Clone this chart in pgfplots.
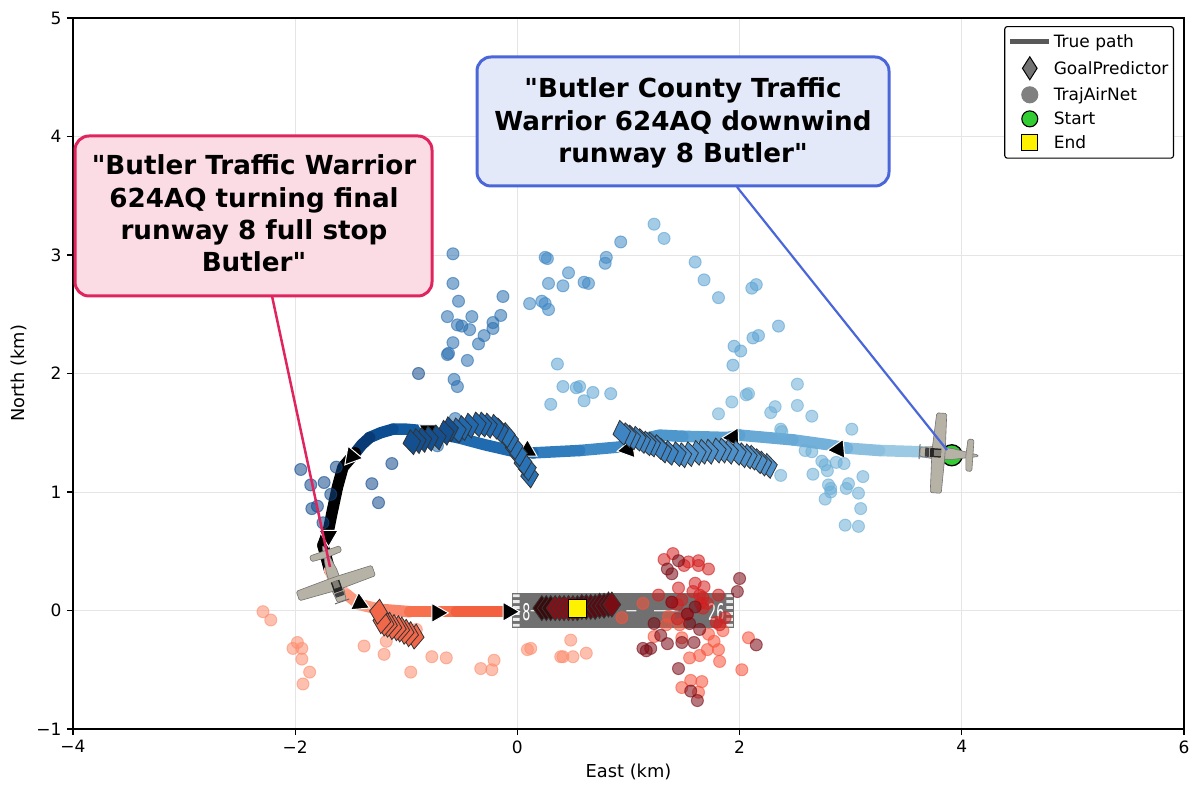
\documentclass[border=0pt]{standalone}
\usepackage{pgfplots}
\pgfplotsset{compat=1.18}
\usepackage{fontspec}
\setmainfont{DejaVu Sans}[Ligatures=TeXOff]
\usetikzlibrary{plotmarks}
\newcommand\defc[1]{\definecolor{HTML#1}{HTML}{#1}}
\defc{9CC9E3}\defc{8DC0DF}\defc{74B1DA}\defc{68A9D6}\defc{5BA2D3}\defc{4E97CC}\defc{408BC6}\defc{307CBD}\defc{206BB0}\defc{125AA0}\defc{0C4C90}\defc{083A75}\defc{000000}\defc{FDB49B}\defc{FB9A7E}\defc{F9866A}\defc{F7714F}\defc{F2603F}
\defc{6BAED6}\defc{5AA2D3}\defc{3F88C4}\defc{2A6FB0}\defc{124A8C}\defc{FC8D6E}\defc{F8533C}\defc{D42020}\defc{7A0A14}
\defc{4E90C9}\defc{3F85C4}\defc{2A72B6}\defc{2268AD}\defc{14508F}\defc{F0674A}\defc{3A0A0C}\defc{8B0D15}\defc{5A0A10}\defc{7A0D14}
\defc{E0245E}\defc{4A66D8}\defc{FBDCE4}\defc{E4E9F9}\defc{32CD32}
\tikzset{
 pts/.style={only marks, mark=*, mark size=6pt, mark options={draw=#1, fill=#1, fill opacity=.55, draw opacity=.6, line width=1pt}},
 seg/.style={draw=#1, line width=11.5pt, line cap=round, line join=round, no marks},
 arr/.style={only marks, mark=triangle*, mark size=11pt, mark options={rotate=#1, fill=black, draw=white, line width=1pt}},
 dia/.style 2 args={only marks, mark=diamond*, mark size=12.5pt, mark options={rotate=#2, fill=#1, draw=black!80, line width=.8pt, xscale=.95}},
}
\definecolor{planetan}{HTML}{B7B2A6}
\newcommand\planeshape{%
 \fill[black!60] (-19,-7.5) rectangle (-18,7.5);
 \draw[black!55,fill=planetan,line width=.6pt,rounded corners=1pt] (-18,-4.5) -- (-5,-6) -- (14,-5.5) -- (40,-.8) -- (40,.8) -- (14,5.5) -- (-5,6) -- (-18,4.5) -- cycle;
 \draw[black!55,fill=planetan,line width=.6pt,rounded corners=1.5pt] (-6,5) -- (-4,40) -- (6,40) -- (7,5) -- (7,-5) -- (6,-40) -- (-5,-40) -- (-6,-5) -- cycle;
 \draw[black!55,fill=planetan,line width=.6pt,rounded corners=1.5pt] (28,1) -- (29,16) -- (35,16) -- (35,1) -- (35,-1) -- (35,-16) -- (29,-16) -- (28,-1) -- cycle;
 \fill[black!85] (-8,-4.5) rectangle (3,4.5);
 \fill[planetan!70!black] (-4,-3) rectangle (3,3);
 \fill[black!75] (-13,-4.5) rectangle (-9,4.5);
}
\begin{document}
\begin{tikzpicture}[x=1pt,y=1pt]
\path[use as bounding box] (0,0) rectangle (1200,795);
\begin{axis}[
 at={(73pt,66pt)}, anchor=south west, scale only axis, width=1111pt, height=711pt,
 xmin=-4, xmax=6, ymin=-1, ymax=5,
 xtick={-4,-2,0,2,4,6}, xticklabels={−4,−2,0,2,4,6},
 ytick={-1,0,1,2,3,4,5}, yticklabels={−1,0,1,2,3,4,5},
 tick align=outside, major tick length=6pt, tick style={black,line width=1.2pt},
 axis line style={line width=1.3pt},
 xtick pos=bottom, ytick pos=left,
 grid=major, grid style={black!10,line width=.9pt},
 tick label style={font=\fontsize{17}{20}\selectfont},
 label style={font=\fontsize{17.8}{20}\selectfont},
 xlabel={East (km)}, ylabel={North (km)},
 xticklabel style={yshift=-2pt}, yticklabel style={xshift=-2pt},
 xlabel style={yshift=-4pt}, ylabel style={yshift=3pt},
 legend cell align=left,
 legend style={at={(0.991,0.9887)},anchor=north east,font=\fontsize{17}{19}\selectfont,draw=black,line width=1.1pt,rounded corners=2.5pt,row sep=5.8pt,inner ysep=6pt,inner xsep=3pt,legend columns=1},
 every axis plot/.append style={forget plot},
]
\addlegendimage{legend image code/.code={\draw[line width=5pt,black!65] (-6pt,0) -- (33pt,0);}}
\addlegendentry{True path}
\addlegendimage{legend image code/.code={\draw[only marks,mark=diamond*,mark size=11.5pt,mark options={fill=black!55,draw=black,line width=1pt,xscale=.85}] plot coordinates {(13.5pt,0)};}}
\addlegendentry{GoalPredictor}
\addlegendimage{legend image code/.code={\draw[only marks,mark=*,mark size=8pt,mark options={fill=black!50,draw=black!50}] plot coordinates {(13.5pt,0)};}}
\addlegendentry{TrajAirNet}
\addlegendimage{legend image code/.code={\draw[only marks,mark=*,mark size=8pt,mark options={fill=HTML32CD32,draw=black,line width=1.1pt}] plot coordinates {(13.5pt,0)};}}
\addlegendentry{Start}
\addlegendimage{legend image code/.code={\draw[only marks,mark=square*,mark size=8pt,mark options={fill=yellow,draw=black,line width=1.1pt}] plot coordinates {(13.5pt,0)};}}
\addlegendentry{End}

% true path, segment by segment
\addplot[seg=HTML9CC9E3] coordinates {(3.90,1.32)(3.61,1.34)(3.26,1.35)};
\addplot[seg=HTML8DC0DF] coordinates {(3.26,1.35)(2.97,1.37)};
\addplot[seg=HTML74B1DA] coordinates {(2.97,1.37)(2.79,1.40)(2.48,1.44)};
\addplot[seg=HTML68A9D6] coordinates {(2.48,1.44)(2.00,1.48)};
\addplot[seg=HTML5BA2D3] coordinates {(2.00,1.48)(1.89,1.46)(1.49,1.47)};
\addplot[seg=HTML4E97CC] coordinates {(1.49,1.47)(1.28,1.48)(1.19,1.46)};
\addplot[seg=HTML408BC6] coordinates {(1.19,1.46)(0.92,1.38)(0.56,1.35)};
\addplot[seg=HTML307CBD] coordinates {(0.56,1.35)(0.14,1.33)};
\addplot[seg=HTML206BB0] coordinates {(0.14,1.33)(-0.07,1.35)(-0.30,1.40)(-0.54,1.46)};
\addplot[seg=HTML125AA0] coordinates {(-0.54,1.46)(-0.88,1.52)(-1.00,1.53)(-1.12,1.53)};
\addplot[seg=HTML0C4C90] coordinates {(-1.12,1.53)(-1.23,1.50)(-1.33,1.46)};
\addplot[seg=HTML083A75] coordinates {(-1.33,1.46)(-1.40,1.40)(-1.46,1.33)};
\addplot[seg=black] coordinates {(-1.46,1.33)(-1.57,1.21)(-1.62,1.04)(-1.67,0.82)(-1.70,0.68)(-1.75,0.55)};
\addplot[seg=HTML000000] coordinates {(-1.75,0.55)(-1.69,0.34)};
\addplot[seg=HTMLFDB49B] coordinates {(-1.69,0.34)(-1.62,0.20)(-1.53,0.13)};
\addplot[seg=HTMLFB9A7E] coordinates {(-1.53,0.13)(-1.42,0.05)(-1.24,0.01)};
\addplot[seg=HTMLF9866A] coordinates {(-1.24,0.01)(-0.97,-0.01)};
\addplot[seg=HTMLF7714F] coordinates {(-0.97,-0.01)(-0.55,-0.01)};
\addplot[seg=HTMLF2603F] coordinates {(-0.55,-0.01)(-0.13,-0.01)};
% arrows on the path
\addplot[arr=95] coordinates {(2.89,1.36)};
\addplot[arr=92] coordinates {(1.94,1.46)};
\addplot[arr=100] coordinates {(0.995,1.36)};
\addplot[arr=0] coordinates {(0.09,1.35)};
\addplot[arr=60] coordinates {(-0.80,1.52)};
\addplot[arr=140] coordinates {(-1.49,1.30)};
\addplot[arr=180] coordinates {(-1.70,0.63)};
\addplot[arr=5] coordinates {(-1.42,0.06)};
\addplot[arr=-90] coordinates {(-0.72,-0.02)};
\addplot[arr=-90] coordinates {(-0.08,-0.01)};
% runway
\fill[black!56] (-0.05,-0.148) rectangle (1.95,0.148);
\fill[white!92!black] (-0.04,-0.137) rectangle (0.02,-0.113) (-0.04,-0.087) rectangle (0.02,-0.063) (-0.04,-0.037) rectangle (0.02,-0.013) (-0.04,0.013) rectangle (0.02,0.037) (-0.04,0.063) rectangle (0.02,0.087) (-0.04,0.113) rectangle (0.02,0.137)
 (1.88,-0.137) rectangle (1.94,-0.113) (1.88,-0.087) rectangle (1.94,-0.063) (1.88,-0.037) rectangle (1.94,-0.013) (1.88,0.013) rectangle (1.94,0.037) (1.88,0.063) rectangle (1.94,0.087) (1.88,0.113) rectangle (1.94,0.137)
 (0.98,-0.008) rectangle (1.07,0.003) (1.23,-0.008) rectangle (1.45,0.003) (0.12,-0.008) rectangle (0.22,0.003);
\node[white,font=\fontsize{23}{23}\selectfont,xscale=.55] at (0.08,-0.015) {8};
\node[white,font=\fontsize{23}{23}\selectfont,xscale=.55] at (1.79,-0.015) {26};
% TrajAirNet scatter, lightest to darkest
\addplot[pts=HTML6BAED6] coordinates {(3.01,1.53)(2.59,1.35)(2.65,1.34)(2.74,1.26)(2.77,1.23)(2.79,1.18)(2.87,1.25)(2.94,1.24)(2.37,1.14)(2.66,1.15)(3.11,1.13)(2.80,1.06)(2.82,1.03)(2.82,1.00)(2.77,0.94)(2.98,1.07)(2.96,1.03)(3.07,0.99)(3.09,0.86)(2.95,0.72)(3.07,0.71)(2.37,1.53)(2.38,1.51)(2.65,1.64)(2.52,1.73)(2.32,1.72)(2.28,1.67)(2.06,1.82)(2.08,1.83)(1.93,1.76)(1.81,1.66)(2.52,1.91)};
\addplot[pts=HTML5AA2D3] coordinates {(0.84,1.83)(0.68,1.84)(0.60,1.77)(0.56,1.89)(0.53,1.88)(0.41,1.89)(0.36,2.08)(0.30,1.74)(2.11,2.72)(2.15,2.75)(1.95,2.23)(2.01,2.19)(1.94,2.07)(2.12,2.30)(2.17,2.32)(2.35,2.40)(1.23,3.26)(1.32,3.14)(1.60,2.94)(1.68,2.79)(1.81,2.64)};
\addplot[pts=HTML3F88C4] coordinates {(0.93,3.11)(0.80,2.98)(0.79,2.93)(0.64,2.76)(0.60,2.77)(0.46,2.85)(0.41,2.74)(0.28,2.76)(0.25,2.98)(0.27,2.97)(0.11,2.59)(0.22,2.61)(0.25,2.59)(0.28,2.54)};
\addplot[pts=HTML2A6FB0] coordinates {(-0.58,3.01)(-0.58,2.76)(-0.53,2.61)(-0.63,2.48)(-0.41,2.48)(-0.54,2.41)(-0.50,2.40)(-0.43,2.37)(-0.22,2.43)(-0.13,2.65)(-0.15,2.49)(-0.22,2.38)(-0.30,2.32)(-0.35,2.25)(-0.58,2.26)(-0.63,2.16)(-0.62,2.17)(-0.45,2.11)(-0.57,1.95)(-0.54,1.89)(-0.56,1.62)(-0.72,1.39)};
\addplot[pts=HTML124A8C] coordinates {(-0.89,2.00)(-1.95,1.19)(-1.86,1.06)(-1.74,1.08)(-1.63,1.21)(-1.68,0.98)(-1.85,0.86)(-1.80,0.88)(-1.75,0.74)(-1.31,1.07)(-1.25,0.91)(-1.13,1.24)};
\addplot[pts=HTMLFC8D6E] coordinates {(-2.29,-0.01)(-2.22,-0.08)(-1.98,-0.27)(-2.02,-0.32)(-1.94,-0.32)(-1.94,-0.41)(-1.87,-0.52)(-1.93,-0.62)(-1.38,-0.30)(-1.18,-0.26)(-1.20,-0.37)(-0.96,-0.52)(-0.77,-0.39)(-0.64,-0.40)(-0.33,-0.49)(-0.23,-0.50)(-0.21,-0.42)(-0.91,-0.16)(0.09,-0.33)(0.12,-0.32)(0.39,-0.39)(0.41,-0.39)(0.48,-0.25)(0.50,-0.39)(0.62,-0.36)};
\addplot[pts=HTMLF8533C] coordinates {(0.94,-0.06)(1.13,0.06)(1.48,-0.65)(1.56,-0.59)(1.66,-0.60)(1.63,-0.69)(1.55,-0.40)(1.64,-0.38)(1.71,-0.33)(1.81,-0.33)(1.82,-0.43)(1.77,-0.26)(1.72,-0.20)(1.85,-0.17)(2.02,-0.50)(2.08,-0.23)(1.23,-0.22)(1.34,-0.12)(1.48,-0.23)(1.46,-0.12)(1.36,-0.05)};
\addplot[pts=HTMLD42020] coordinates {(1.32,0.43)(1.40,0.48)(1.50,0.38)(1.54,0.41)(1.63,0.42)(1.63,0.38)(1.72,0.35)(1.45,0.19)(1.60,0.23)(1.68,0.20)(1.58,0.16)(1.81,0.13)(1.64,0.13)(1.67,0.11)(1.65,0.06)(1.71,0.06)(1.67,0.02)(1.27,0.13)(1.39,0.07)(1.48,0.09)(1.44,0.05)(1.44,-0.07)(1.53,-0.03)(1.79,-0.10)(1.82,-0.12)(1.87,-0.06)};
\addplot[pts=HTML7A0A14] coordinates {(1.45,0.42)(1.35,0.35)(1.39,0.31)(2.00,0.27)(1.98,0.16)(2.15,-0.29)(1.45,-0.49)(1.56,-0.68)(1.62,-0.76)(1.48,-0.27)(1.35,-0.28)(1.59,-0.27)(1.64,-0.16)(1.29,-0.21)(1.23,-0.11)(1.53,-0.03)(1.60,0.03)(1.20,-0.32)(1.13,-0.32)(1.16,-0.34)(1.39,0.07)(1.55,-0.11)};
% GoalPredictor diamonds
\addplot[dia={HTML4E90C9}{8}] coordinates {(2.26,1.22)(2.21,1.24)(2.17,1.26)(2.12,1.29)(2.08,1.30)(2.03,1.31)(1.98,1.33)(1.91,1.34)(1.85,1.35)(1.80,1.35)(1.73,1.34)(1.67,1.34)(1.62,1.33)(1.55,1.32)(1.49,1.31)};
\addplot[dia={HTML3F85C4}{10}] coordinates {(1.44,1.32)(1.37,1.33)(1.31,1.35)(1.27,1.38)(1.21,1.40)(1.17,1.41)(1.12,1.43)(1.08,1.45)(1.03,1.46)(0.99,1.48)(0.94,1.50)};
\addplot[dia={HTML2A72B6}{5}] coordinates {(0.11,1.14)(0.09,1.20)(0.05,1.25)(0.01,1.32)(-0.03,1.38)(-0.07,1.44)(-0.10,1.48)};
\addplot[dia={HTML2268AD}{8}] coordinates {(-0.16,1.52)(-0.20,1.55)(-0.26,1.56)(-0.31,1.57)(-0.36,1.57)(-0.43,1.56)(-0.49,1.54)(-0.54,1.52)};
\addplot[dia={HTML14508F}{8}] coordinates {(-0.61,1.53)(-0.65,1.50)(-0.72,1.46)(-0.79,1.45)(-0.85,1.44)(-0.90,1.43)(-0.95,1.42)};
\addplot[dia={HTMLF0674A}{-5}] coordinates {(-0.92,-0.22)(-0.97,-0.20)(-1.01,-0.18)(-1.05,-0.16)(-1.08,-0.15)(-1.12,-0.14)(-1.16,-0.12)(-1.19,-0.11)(-1.22,-0.09)(-1.25,-0.01)};
\addplot[dia={HTML3A0A0C}{0}] coordinates {(0.22,0.02)(0.26,0.02)(0.30,0.02)};
\addplot[dia={HTML8B0D15}{0}] coordinates {(0.34,0.02)(0.38,0.02)(0.42,0.02)(0.46,0.02)(0.50,0.02)};
\addplot[dia={HTML5A0A10}{0}] coordinates {(0.54,0.02)(0.58,0.03)(0.62,0.03)(0.66,0.03)(0.70,0.03)(0.74,0.04)(0.78,0.04)(0.82,0.05)};
\addplot[dia={HTML7A0D14}{0}] coordinates {(0.85,0.05)};
% start and end
\addplot[only marks,mark=*,mark size=10.5pt,mark options={fill=HTML32CD32,draw=black,line width=1.3pt}] coordinates {(3.91,1.31)};
\addplot[only marks,mark=square*,mark size=9pt,mark options={fill=yellow,draw=black,line width=1pt}] coordinates {(0.54,0.02)};
\end{axis}
% aircraft
\begin{scope}[shift={(938,342)},rotate=-4]\planeshape\end{scope}
\begin{scope}[shift={(336,211)},rotate=109]\planeshape\end{scope}
% callouts
\draw[line width=2.5pt,draw=HTMLE0245E] (272,499) -- (330,228);
\draw[line width=2.2pt,draw=HTML4A66D8] (737,608) -- (947,345);
\draw[line width=3pt,draw=HTMLE0245E,fill=HTMLFBDCE4,rounded corners=14pt] (75,499) rectangle (432,659);
\draw[line width=3pt,draw=HTML4A66D8,fill=HTMLE4E9F9,rounded corners=14pt] (477,609) rectangle (889,738);
\node[align=center,font=\fontsize{26.2}{32.3}\selectfont\bfseries] at (254,581.5) {"Butler Traffic Warrior\\624AQ turning final\\runway 8 full stop\\Butler"};
\node[align=center,font=\fontsize{26.2}{32.3}\selectfont\bfseries] at (683,672) {"Butler County Traffic\\Warrior 624AQ downwind\\runway 8 Butler"};
\end{tikzpicture}
\end{document}
